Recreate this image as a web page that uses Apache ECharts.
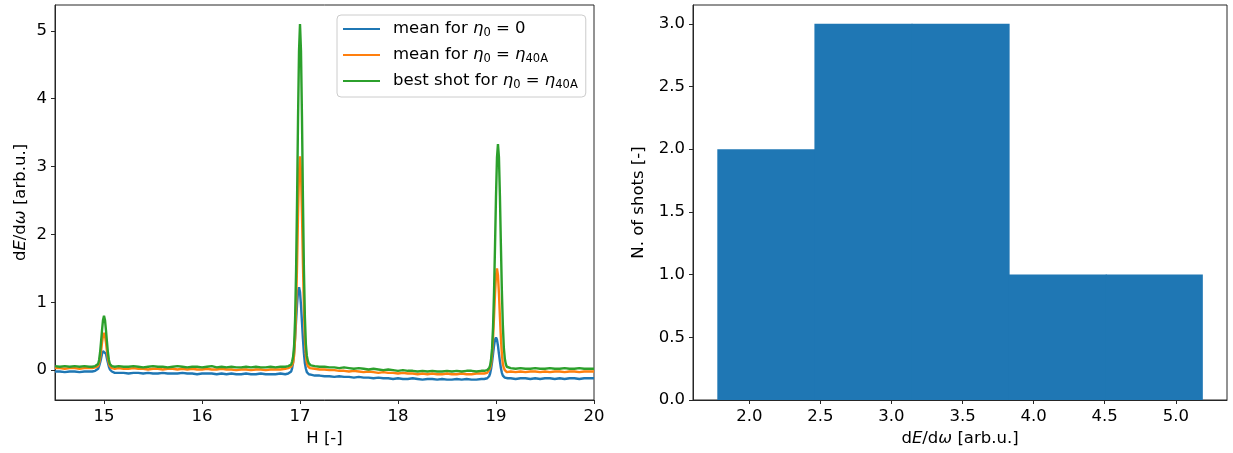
<!DOCTYPE html>
<html>
<head>
<meta charset="utf-8">
<script src="https://cdn.jsdelivr.net/npm/echarts@6/dist/echarts.min.js"></script>
<style>
html,body{margin:0;padding:0;background:#fff;}
#chart{width:1233px;height:453px;}
</style>
</head>
<body>
<div id="chart"></div>
<script>
// ---- Left panel: spectra vs H ----
const hValues = [
14.50,14.55,14.60,14.65,14.70,14.75,14.80,14.85,
14.88,14.89,14.90,14.91,14.92,14.93,14.94,14.95,14.96,14.97,14.98,14.99,15.00,15.01,15.02,15.03,15.04,15.05,15.06,15.07,15.08,15.09,15.10,15.11,15.12,
15.15,15.20,15.25,15.30,15.35,15.40,15.45,15.50,15.55,15.60,15.65,15.70,15.75,15.80,15.85,15.90,15.95,16.00,16.05,16.10,16.15,16.20,16.25,16.30,16.35,16.40,16.45,16.50,16.55,16.60,16.65,16.70,16.75,16.80,16.85,
16.88,16.89,16.90,16.91,16.92,16.93,16.94,16.95,16.96,16.97,16.98,16.99,17.00,17.01,17.02,17.03,17.04,17.05,17.06,17.07,17.08,17.09,17.10,17.11,17.12,
17.15,17.20,17.25,17.30,17.35,17.40,17.45,17.50,17.55,17.60,17.65,17.70,17.75,17.80,17.85,17.90,17.95,18.00,18.05,18.10,18.15,18.20,18.25,18.30,18.35,18.40,18.45,18.50,18.55,18.60,18.65,18.70,18.75,18.80,18.85,
18.88,18.89,18.90,18.91,18.92,18.93,18.94,18.95,18.96,18.97,18.98,18.99,19.00,19.01,19.02,19.03,19.04,19.05,19.06,19.07,19.08,19.09,19.10,19.11,19.12,
19.15,19.20,19.25,19.30,19.35,19.40,19.45,19.50,19.55,19.60,19.65,19.70,19.75,19.80,19.85,19.90,19.95,20.00
];
const meanEta0 = [
-0.02,-0.02,-0.03,-0.02,-0.02,-0.03,-0.02,-0.02,
-0.02,-0.02,-0.02,-0.01,-0.01,0.00,0.02,0.06,0.11,0.17,0.24,0.28,0.30,0.28,0.24,0.17,0.11,0.05,0.01,-0.01,-0.02,-0.03,-0.03,-0.04,-0.04,
-0.04,-0.04,-0.05,-0.04,-0.04,-0.05,-0.04,-0.05,-0.05,-0.04,-0.05,-0.05,-0.05,-0.04,-0.05,-0.05,-0.06,-0.05,-0.05,-0.05,-0.06,-0.05,-0.06,-0.05,-0.06,-0.06,-0.05,-0.06,-0.06,-0.05,-0.06,-0.06,-0.06,-0.05,-0.06,
-0.05,-0.05,-0.04,-0.02,0.03,0.12,0.27,0.48,0.73,0.97,1.16,1.22,1.15,0.96,0.71,0.46,0.25,0.10,0.02,-0.03,-0.05,-0.06,-0.07,-0.07,-0.07,
-0.08,-0.08,-0.09,-0.09,-0.10,-0.09,-0.10,-0.10,-0.11,-0.10,-0.11,-0.11,-0.12,-0.11,-0.12,-0.12,-0.13,-0.12,-0.13,-0.13,-0.12,-0.13,-0.14,-0.13,-0.13,-0.14,-0.13,-0.14,-0.14,-0.13,-0.14,-0.13,-0.14,-0.14,-0.13,
-0.13,-0.13,-0.12,-0.12,-0.11,-0.09,-0.05,0.02,0.12,0.24,0.36,0.45,0.48,0.45,0.36,0.24,0.13,0.03,-0.04,-0.08,-0.10,-0.11,-0.12,-0.12,-0.12,
-0.12,-0.13,-0.12,-0.12,-0.13,-0.12,-0.13,-0.12,-0.12,-0.13,-0.12,-0.13,-0.12,-0.12,-0.13,-0.12,-0.12,-0.12
];
const meanEta40A = [
0.03,0.03,0.02,0.03,0.03,0.02,0.03,0.03,
0.03,0.03,0.03,0.04,0.04,0.05,0.06,0.10,0.17,0.28,0.41,0.51,0.55,0.51,0.41,0.28,0.17,0.10,0.06,0.04,0.03,0.03,0.03,0.02,0.02,
0.03,0.02,0.02,0.03,0.02,0.02,0.01,0.02,0.02,0.01,0.02,0.02,0.01,0.02,0.01,0.02,0.01,0.01,0.02,0.01,0.01,0.02,0.01,0.01,0.00,0.01,0.01,0.00,0.01,0.01,0.00,0.01,0.01,0.01,0.02,
0.03,0.03,0.04,0.05,0.07,0.11,0.22,0.47,0.92,1.56,2.31,2.92,3.15,2.93,2.32,1.57,0.92,0.46,0.22,0.10,0.06,0.04,0.03,0.02,0.02,
0.02,0.01,0.01,0.00,0.00,-0.01,-0.01,-0.02,-0.01,-0.02,-0.03,-0.02,-0.03,-0.04,-0.03,-0.04,-0.04,-0.05,-0.04,-0.05,-0.05,-0.06,-0.05,-0.06,-0.05,-0.06,-0.06,-0.05,-0.06,-0.06,-0.05,-0.06,-0.06,-0.05,-0.05,
-0.05,-0.05,-0.04,-0.04,-0.03,0.00,0.03,0.09,0.24,0.47,0.79,1.13,1.40,1.50,1.40,1.13,0.79,0.47,0.24,0.09,0.03,0.00,-0.02,-0.03,-0.03,
-0.02,-0.03,-0.02,-0.03,-0.02,-0.02,-0.03,-0.02,-0.03,-0.02,-0.02,-0.03,-0.02,-0.02,-0.03,-0.02,-0.02,-0.02
];
const bestShot40A = [
0.06,0.05,0.06,0.05,0.06,0.05,0.06,0.05,
0.05,0.05,0.06,0.06,0.06,0.07,0.09,0.15,0.26,0.42,0.59,0.74,0.80,0.74,0.59,0.42,0.26,0.15,0.09,0.07,0.06,0.05,0.05,0.05,0.05,
0.06,0.05,0.05,0.06,0.05,0.04,0.05,0.06,0.05,0.05,0.04,0.05,0.06,0.05,0.04,0.05,0.05,0.04,0.05,0.06,0.04,0.05,0.04,0.05,0.04,0.04,0.05,0.04,0.05,0.04,0.04,0.05,0.04,0.05,0.05,
0.06,0.06,0.07,0.08,0.13,0.20,0.36,0.75,1.46,2.50,3.72,4.70,5.10,4.71,3.74,2.52,1.48,0.78,0.38,0.21,0.14,0.10,0.08,0.07,0.07,
0.06,0.05,0.05,0.04,0.04,0.03,0.04,0.03,0.02,0.03,0.02,0.01,0.02,0.01,0.00,0.01,0.00,-0.01,0.00,-0.01,-0.01,-0.02,-0.01,-0.02,-0.01,-0.02,-0.02,-0.01,-0.02,-0.01,-0.02,-0.01,-0.01,-0.02,-0.01,
-0.01,-0.01,0.00,0.00,0.01,0.03,0.07,0.16,0.32,0.64,1.15,1.83,2.56,3.13,3.33,3.14,2.57,1.84,1.16,0.66,0.33,0.17,0.09,0.05,0.04,
0.03,0.02,0.03,0.02,0.02,0.03,0.02,0.02,0.03,0.02,0.02,0.03,0.02,0.02,0.03,0.02,0.02,0.02
];
const seriesNames = ['mean0', 'mean40A', 'best40A'];
const leftXTicks = [15, 16, 17, 18, 19, 20];
const leftYTicks = [0, 1, 2, 3, 4, 5];

// ---- Right panel: histogram of best-shot peak values ----
const binEdges = [1.775, 2.458, 3.141, 3.824, 4.507, 5.190];
const binCounts = [2, 3, 3, 1, 1];
const rightXTicks = [2.0, 2.5, 3.0, 3.5, 4.0, 4.5, 5.0];
const rightYTicks = [0.0, 0.5, 1.0, 1.5, 2.0, 2.5, 3.0];

const colors = ['#1f77b4', '#ff7f0e', '#2ca02c'];
const FONT = 'DejaVu Sans';
const TICK_FS = 16.5;
const NAME_FS = 16.5;
const SPINE = '#262626';

const chart = echarts.init(document.getElementById('chart'), null, {renderer: 'canvas'});

const mathRich = {
  n: {fontFamily: FONT, fontSize: NAME_FS, color: '#000'},
  i: {fontFamily: FONT, fontSize: NAME_FS, fontStyle: 'italic', color: '#000'}
};

function valueAxisCommon(ticks, fmt) {
  return {
    type: 'value',
    axisLine: {show: true, onZero: false, lineStyle: {color: SPINE, width: 1}},
    axisTick: {show: true, inside: false, length: 4, lineStyle: {color: SPINE, width: 1}, customValues: ticks},
    axisLabel: {show: true, color: '#000', fontFamily: FONT, fontSize: TICK_FS, customValues: ticks, formatter: fmt, margin: 8},
    splitLine: {show: false}
  };
}

const lineData = [meanEta0, meanEta40A, bestShot40A].map(arr => hValues.map((h, i) => [h, arr[i]]));

const legendLabels = {
  mean0: 'mean for {i|η}{s|0}{n| = 0}',
  mean40A: 'mean for {i|η}{s|0}{n| = }{i|η}{s|40A}',
  best40A: 'best shot for {i|η}{s|0}{n| = }{i|η}{s|40A}'
};

const option = {
  backgroundColor: '#fff',
  animation: false,
  grid: [
    {left: 55, top: 5, width: 539, height: 395, show: true, borderColor: SPINE, borderWidth: 1, backgroundColor: 'transparent', containLabel: false},
    {left: 693, top: 5, width: 534, height: 395, show: true, borderColor: SPINE, borderWidth: 1, backgroundColor: 'transparent', containLabel: false}
  ],
  xAxis: [
    Object.assign(valueAxisCommon(leftXTicks, v => String(v)), {
      gridIndex: 0, min: 14.5, max: 20, position: 'bottom',
      name: 'H [-]', nameLocation: 'middle', nameGap: 30,
      nameTextStyle: {fontFamily: FONT, fontSize: NAME_FS, color: '#000'}
    }),
    Object.assign(valueAxisCommon(rightXTicks, v => v.toFixed(1)), {
      gridIndex: 1, min: 1.604, max: 5.36, position: 'bottom',
      name: '{n|d}{i|E}{n|/d}{i|ω}{n| [arb.u.]}', nameLocation: 'middle', nameGap: 30,
      nameTextStyle: {fontFamily: FONT, fontSize: NAME_FS, color: '#000', rich: mathRich}
    })
  ],
  yAxis: [
    Object.assign(valueAxisCommon(leftYTicks, v => String(v)), {
      gridIndex: 0, min: -0.44, max: 5.38, position: 'left',
      name: '{n|d}{i|E}{n|/d}{i|ω}{n| [arb.u.]}', nameLocation: 'middle', nameGap: 26,
      nameTextStyle: {fontFamily: FONT, fontSize: NAME_FS, color: '#000', rich: mathRich}
    }),
    Object.assign(valueAxisCommon(rightYTicks, v => v.toFixed(1)), {
      gridIndex: 1, min: 0, max: 3.15, position: 'left',
      name: 'N. of shots [-]', nameLocation: 'middle', nameGap: 46,
      nameTextStyle: {fontFamily: FONT, fontSize: NAME_FS, color: '#000'}
    })
  ],
  legend: {
    show: true,
    orient: 'vertical',
    left: 337, top: 15,
    padding: [4, 8, 6, 6],
    itemGap: 6,
    itemWidth: 37,
    itemHeight: 2.2,
    icon: 'rect',
    borderColor: '#cccccc', borderWidth: 1, borderRadius: 4,
    backgroundColor: 'rgba(255,255,255,0.8)',
    data: seriesNames,
    formatter: name => legendLabels[name],
    textStyle: {
      fontFamily: FONT, fontSize: NAME_FS, color: '#000', lineHeight: 20,
      padding: [0, 0, 0, 8],
      rich: {
        n: {fontFamily: FONT, fontSize: NAME_FS, color: '#000', lineHeight: 20},
        i: {fontFamily: FONT, fontSize: NAME_FS, fontStyle: 'italic', color: '#000', lineHeight: 20},
        s: {fontFamily: FONT, fontSize: 11.5, color: '#000', lineHeight: 13, verticalAlign: 'bottom'}
      }
    }
  },
  series: [
    ...seriesNames.map((nm, k) => ({
      name: nm, type: 'line', xAxisIndex: 0, yAxisIndex: 0,
      data: lineData[k], symbol: 'none', showSymbol: false,
      lineStyle: {color: colors[k], width: 2.4},
      itemStyle: {color: colors[k]},
      clip: true, z: 2 + k
    })),
    {
      name: 'hist', type: 'custom', xAxisIndex: 1, yAxisIndex: 1,
      data: binCounts.map((c, i) => [binEdges[i], binEdges[i + 1], c]),
      encode: {x: [0, 1], y: 2},
      clip: true,
      renderItem: function (params, api) {
        const p0 = api.coord([api.value(0), api.value(2)]);
        const p1 = api.coord([api.value(1), 0]);
        // overlap neighbours by 1px to avoid anti-aliasing seams between adjacent bins
        const join = params.dataIndex < binCounts.length - 1 ? 1 : 0;
        return {
          type: 'rect',
          shape: {x: p0[0], y: p0[1], width: p1[0] - p0[0] + join, height: p1[1] - p0[1]},
          style: {fill: '#1f77b4'}
        };
      }
    }
  ]
};
chart.setOption(option);
</script>
</body>
</html>
